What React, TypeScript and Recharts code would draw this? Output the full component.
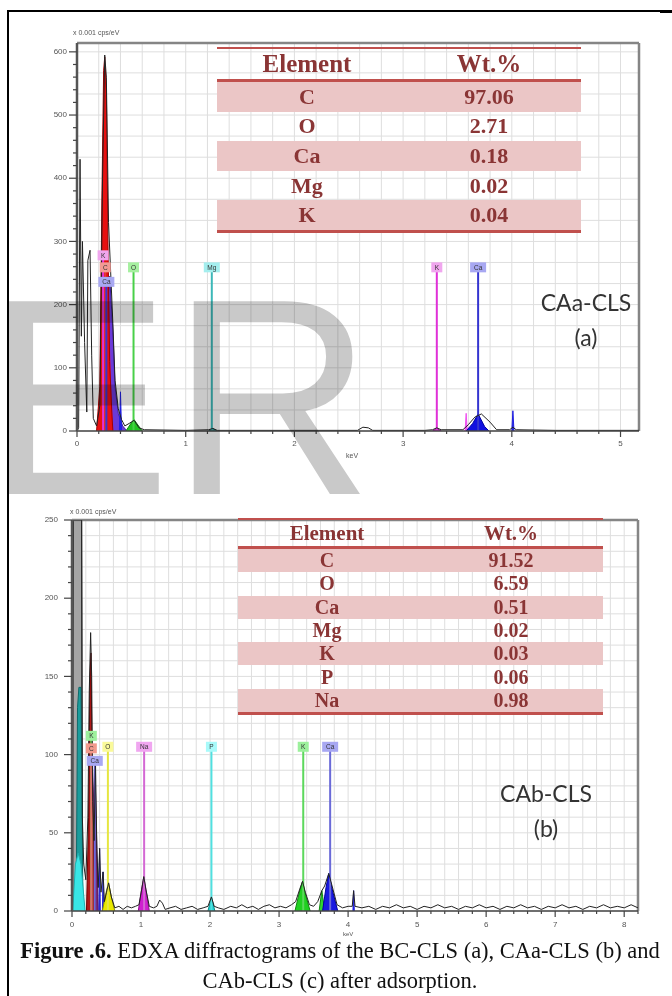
import React from "react";
import { ComposedChart, Area, Line, XAxis, YAxis, CartesianGrid, ReferenceLine, ReferenceDot } from "recharts";

type Pt = [number, number];

// ---------- (a) CAa-CLS ----------
const A_X_MAX = 5.17;
const A_Y_MAX = 614;
const A_X_TICKS = [0, 0.2, 0.4, 0.6, 0.8, 1, 1.2, 1.4, 1.6, 1.8, 2, 2.2, 2.4, 2.6, 2.8, 3, 3.2, 3.4, 3.6, 3.8, 4, 4.2, 4.4, 4.6, 4.8, 5];
const A_X_LABELS = [0, 1, 2, 3, 4, 5];
const A_Y_TICKS = [0, 20, 40, 60, 80, 100, 120, 140, 160, 180, 200, 220, 240, 260, 280, 300, 320, 340, 360, 380, 400, 420, 440, 460, 480, 500, 520, 540, 560, 580, 600];
const A_Y_LABELS = [0, 100, 200, 300, 400, 500, 600];
const A_Y_GRID = [0, 33.3, 66.7, 100, 133.3, 166.7, 200, 233.3, 266.7, 300, 333.3, 366.7, 400, 433.3, 466.7, 500, 533.3, 566.7, 600];

const A_SPECTRUM: Pt[] = [
  [0, 0], [0.015, 5], [0.028, 430], [0.04, 150], [0.05, 300], [0.07, 140], [0.09, 30], [0.1, 270], [0.12, 286],
  [0.135, 120], [0.15, 20], [0.18, 8], [0.21, 40], [0.235, 400], [0.255, 595], [0.27, 560], [0.29, 330], [0.31, 250],
  [0.33, 170], [0.35, 80], [0.38, 35], [0.41, 18], [0.44, 8], [0.48, 12], [0.525, 17], [0.57, 5], [0.62, 2],
  [1.0, 1], [1.21, 2], [1.25, 4], [1.29, 1], [2.0, 1], [2.58, 1], [2.63, 6], [2.68, 5], [2.72, 1], [3.2, 1],
  [3.27, 2], [3.31, 5], [3.35, 2], [3.55, 2], [3.6, 10], [3.66, 22], [3.72, 27], [3.8, 14], [3.86, 2], [3.98, 2],
  [4.01, 6], [4.04, 2], [4.4, 1], [5.17, 1],
];
const A_C_PEAK: Pt[] = [[0.18, 0], [0.21, 70], [0.23, 380], [0.245, 570], [0.255, 592], [0.27, 540], [0.285, 300], [0.3, 110], [0.32, 30], [0.33, 0]];
const A_K_LOW_PEAK: Pt[] = [[0.21, 0], [0.24, 160], [0.265, 225], [0.29, 190], [0.31, 70], [0.33, 0]];
const A_CA_LOW_PEAK: Pt[] = [[0.24, 0], [0.27, 170], [0.3, 245], [0.33, 160], [0.35, 70], [0.38, 28], [0.42, 8], [0.46, 0]];
const A_CA_TAIL: Pt[] = [[0.39, 0], [0.4, 62], [0.41, 0]];
const A_O_PEAK: Pt[] = [[0.45, 0], [0.5, 13], [0.525, 18], [0.55, 12], [0.6, 0]];
const A_MG_PEAK: Pt[] = [[1.21, 0], [1.25, 4], [1.29, 0]];
const A_K_PEAK: Pt[] = [[3.27, 0], [3.31, 4], [3.35, 0]];
const A_KB_PEAK: Pt[] = [[3.57, 0], [3.58, 28], [3.59, 0]];
const A_CA_PEAK: Pt[] = [[3.58, 0], [3.64, 12], [3.69, 27], [3.75, 7], [3.79, 0]];
const A_CAB_PEAK: Pt[] = [[4.0, 0], [4.01, 32], [4.02, 0]];

const A_MARKERS = [
  { el: "K", e: 0.24, h: 278 },
  { el: "C", e: 0.26, h: 259 },
  { el: "Ca", e: 0.27, h: 236 },
  { el: "O", e: 0.52, h: 259 },
  { el: "Mg", e: 1.24, h: 259 },
  { el: "K", e: 3.31, h: 259 },
  { el: "Ca", e: 3.69, h: 259 },
];

const A_ELEMENTS = ["C", "O", "Ca", "Mg", "K"];
const A_WT = ["97.06", "2.71", "0.18", "0.02", "0.04"];

// ---------- (b) CAb-CLS ----------
const B_X_MAX = 8.2;
const B_Y_MAX = 250;
const B_X_TICKS = [0, 0.2, 0.4, 0.6, 0.8, 1, 1.2, 1.4, 1.6, 1.8, 2, 2.2, 2.4, 2.6, 2.8, 3, 3.2, 3.4, 3.6, 3.8, 4, 4.2, 4.4, 4.6, 4.8, 5, 5.2, 5.4, 5.6, 5.8, 6, 6.2, 6.4, 6.6, 6.8, 7, 7.2, 7.4, 7.6, 7.8, 8, 8.2];
const B_X_LABELS = [0, 1, 2, 3, 4, 5, 6, 7, 8];
const B_Y_TICKS = [0, 10, 20, 30, 40, 50, 60, 70, 80, 90, 100, 110, 120, 130, 140, 150, 160, 170, 180, 190, 200, 210, 220, 230, 240, 250];
const B_Y_LABELS = [0, 50, 100, 150, 200, 250];

const B_SPECTRUM: Pt[] = [
  [0, 0], [0.01, 250], [0.14, 250], [0.15, 60], [0.17, 30], [0.2, 20], [0.23, 60], [0.25, 140], [0.27, 178],
  [0.285, 150], [0.3, 70], [0.32, 45], [0.34, 96], [0.36, 40], [0.38, 15], [0.4, 40], [0.42, 12], [0.45, 25],
  [0.47, 6], [0.5, 12], [0.53, 18], [0.57, 9], [0.62, 2], [0.68, 3], [0.74, 1], [0.8, 3], [0.86, 2], [0.92, 3],
  [0.97, 4], [1.01, 14], [1.04, 22], [1.07, 14], [1.12, 3], [1.18, 2], [1.23, 3], [1.27, 7], [1.31, 5], [1.35, 1],
  [1.42, 2], [1.5, 3], [1.58, 1], [1.66, 2], [1.74, 3], [1.82, 1], [1.9, 2], [1.97, 3], [2.02, 9], [2.06, 3],
  [2.12, 2], [2.2, 1], [2.3, 3], [2.38, 2], [2.46, 4], [2.54, 2], [2.62, 3], [2.7, 1], [2.78, 3], [2.86, 4],
  [2.94, 2], [3.02, 3], [3.1, 2], [3.18, 4], [3.24, 6], [3.3, 14], [3.34, 19], [3.38, 12], [3.44, 4], [3.5, 3],
  [3.56, 6], [3.62, 13], [3.66, 16], [3.72, 24], [3.78, 14], [3.84, 4], [3.92, 2], [4.0, 3], [4.06, 3], [4.08, 13],
  [4.1, 3], [4.2, 2], [4.3, 3], [4.4, 1], [4.5, 3], [4.6, 2], [4.7, 4], [4.8, 2], [4.9, 3], [5.0, 1], [5.1, 3],
  [5.2, 2], [5.3, 4], [5.4, 2], [5.5, 3], [5.6, 1], [5.7, 3], [5.8, 2], [5.9, 4], [6.0, 2], [6.1, 3], [6.2, 1],
  [6.3, 3], [6.4, 2], [6.5, 4], [6.6, 2], [6.7, 3], [6.8, 1], [6.9, 3], [7.0, 2], [7.1, 4], [7.2, 2], [7.3, 3],
  [7.4, 1], [7.5, 3], [7.6, 2], [7.7, 4], [7.8, 2], [7.9, 3], [8.0, 2], [8.1, 4], [8.2, 2],
];
const B_ZERO_PEAK: Pt[] = [[0.01, 0], [0.02, 250], [0.14, 250], [0.15, 0]];
const B_TEAL_PEAK: Pt[] = [[0.06, 0], [0.08, 130], [0.1, 143], [0.13, 143], [0.16, 0]];
const B_CYAN_PEAK: Pt[] = [[0.01, 0], [0.05, 30], [0.09, 37], [0.13, 30], [0.19, 0]];
const B_C_PEAK: Pt[] = [[0.21, 0], [0.24, 60], [0.26, 150], [0.275, 165], [0.29, 100], [0.32, 30], [0.34, 0]];
const B_CA_LOW_PEAK: Pt[] = [[0.28, 0], [0.3, 60], [0.33, 96], [0.36, 40], [0.38, 0]];
const B_CA_TAIL1: Pt[] = [[0.39, 0], [0.4, 40], [0.41, 0]];
const B_CA_TAIL2: Pt[] = [[0.44, 0], [0.45, 25], [0.46, 0]];
const B_O_PEAK: Pt[] = [[0.44, 0], [0.5, 13], [0.53, 18], [0.57, 9], [0.62, 0]];
const B_NA_PEAK: Pt[] = [[0.96, 0], [1.01, 14], [1.04, 22], [1.07, 14], [1.12, 0]];
const B_P_PEAK: Pt[] = [[1.97, 0], [2.02, 9], [2.07, 0]];
const B_K_PEAK: Pt[] = [[3.23, 0], [3.3, 13], [3.34, 19], [3.38, 11], [3.45, 0]];
const B_KB_PEAK: Pt[] = [[3.58, 0], [3.62, 13], [3.66, 0]];
const B_CA_PEAK: Pt[] = [[3.63, 0], [3.68, 15], [3.72, 24], [3.78, 12], [3.85, 0]];
const B_CAB_PEAK: Pt[] = [[4.07, 0], [4.08, 13], [4.09, 0]];

const B_MARKERS = [
  { el: "K", e: 0.28, h: 112 },
  { el: "C", e: 0.28, h: 104 },
  { el: "Ca", e: 0.33, h: 96 },
  { el: "O", e: 0.52, h: 105 },
  { el: "Na", e: 1.045, h: 105 },
  { el: "P", e: 2.02, h: 105 },
  { el: "K", e: 3.35, h: 105 },
  { el: "Ca", e: 3.74, h: 105 },
];

const B_ELEMENTS = ["C", "O", "Ca", "Mg", "K", "P", "Na"];
const B_WT = ["91.52", "6.59", "0.51", "0.02", "0.03", "0.06", "0.98"];

// marker colours (line, label box)
const A_MARK_COLORS: Record<string, [string, string]> = {
  K: ["#e030d8", "#f0a6ee"],
  C: ["#e03a3a", "#f29a94"],
  Ca: ["#3434d0", "#a8a8f2"],
  O: ["#48d048", "#a6f0a0"],
  Mg: ["#3cb8b8", "#a4eeee"],
};
const B_MARK_COLORS: Record<string, [string, string]> = {
  K: ["#5cd85c", "#9cf09c"],
  C: ["#e06a6a", "#f29a8c"],
  Ca: ["#6a6ad8", "#a8a8f2"],
  O: ["#e6e640", "#fafa9a"],
  Na: ["#d468d4", "#f0a6f0"],
  P: ["#50e0e0", "#a8fafa"],
};

const toRows = (pts: Pt[]) => pts.map(([e, c]) => ({ e, c }));

interface PeakDef { pts: Pt[]; fill: string; stroke: string }

// drawn back to front
const A_PEAKS: PeakDef[] = [
  { pts: A_CA_LOW_PEAK, fill: "#6a3ad8", stroke: "#3a1aa0" },
  { pts: A_K_LOW_PEAK, fill: "#ff3cc8", stroke: "#c0208c" },
  { pts: A_C_PEAK, fill: "#e81010", stroke: "#a00000" },
  { pts: A_CA_TAIL, fill: "#2020e0", stroke: "#2020e0" },
  { pts: A_O_PEAK, fill: "#22c422", stroke: "#108010" },
  { pts: A_MG_PEAK, fill: "#30b0b0", stroke: "#208080" },
  { pts: A_K_PEAK, fill: "#e020e0", stroke: "#a010a0" },
  { pts: A_KB_PEAK, fill: "#f050f0", stroke: "#f050f0" },
  { pts: A_CA_PEAK, fill: "#1010e0", stroke: "#0000a0" },
  { pts: A_CAB_PEAK, fill: "#2020e0", stroke: "#2020e0" },
];

const B_PEAKS: PeakDef[] = [
  { pts: B_ZERO_PEAK, fill: "#a4a4a4", stroke: "#222" },
  { pts: B_TEAL_PEAK, fill: "#1a9c9c", stroke: "#0e6a6a" },
  { pts: B_CYAN_PEAK, fill: "#38e6e6", stroke: "#20b0b0" },
  { pts: B_CA_LOW_PEAK, fill: "#7a2a78", stroke: "#501050" },
  { pts: B_C_PEAK, fill: "#b01818", stroke: "#700000" },
  { pts: B_CA_TAIL1, fill: "#2828d0", stroke: "#2828d0" },
  { pts: B_CA_TAIL2, fill: "#2828d0", stroke: "#2828d0" },
  { pts: B_O_PEAK, fill: "#e8e800", stroke: "#909000" },
  { pts: B_NA_PEAK, fill: "#d020d0", stroke: "#901090" },
  { pts: B_P_PEAK, fill: "#20d0d0", stroke: "#108888" },
  { pts: B_K_PEAK, fill: "#20d020", stroke: "#108810" },
  { pts: B_KB_PEAK, fill: "#30d830", stroke: "#108810" },
  { pts: B_CA_PEAK, fill: "#1a1ae0", stroke: "#0000a0" },
  { pts: B_CAB_PEAK, fill: "#2020e0", stroke: "#2020e0" },
];

const TICK_FONT = "'Liberation Sans', Arial, sans-serif";

function XTick(props: any) {
  const { x, y, payload, labels, labelGap } = props;
  const major = labels.includes(payload.value);
  return (
    <g>
      <line x1={x} x2={x} y1={y} y2={y + (major ? 6 : 3)} stroke="#444" strokeWidth={1.2} />
      {major && (
        <text x={x} y={y + labelGap} textAnchor="middle" dominantBaseline="middle" fontSize={8} fill="#555" fontFamily={TICK_FONT}>
          {payload.value}
        </text>
      )}
    </g>
  );
}

function YTick(props: any) {
  const { x, y, payload, labels, labelGap } = props;
  const major = labels.includes(payload.value);
  return (
    <g>
      <line x1={x - (major ? 8 : 4)} x2={x} y1={y} y2={y} stroke="#444" strokeWidth={1.2} />
      {major && (
        <text x={x - labelGap} y={y} textAnchor="end" dominantBaseline="middle" fontSize={8} fill="#555" fontFamily={TICK_FONT}>
          {payload.value}
        </text>
      )}
    </g>
  );
}

function MarkerBox(props: any) {
  const { cx, cy, el, fill } = props;
  const w = el.length > 1 ? 16 : 11;
  return (
    <g>
      <rect x={cx - w / 2} y={cy - 5} width={w} height={10} fill={fill} />
      <text x={cx} y={cy + 0.5} textAnchor="middle" dominantBaseline="middle" fontSize={6.5} fill="#333" fontFamily={TICK_FONT}>
        {el}
      </text>
    </g>
  );
}

interface SpectrumProps {
  width: number;
  height: number;
  margin: { top: number; right: number; bottom: number; left: number };
  xMax: number;
  yMax: number;
  xTicks: number[];
  xLabels: number[];
  yTicks: number[];
  yLabels: number[];
  yGrid: number[];
  yLabelGap: number;
  xLabelGap: number;
  spectrum: Pt[];
  peaks: PeakDef[];
  markers: { el: string; e: number; h: number }[];
  colors: Record<string, [string, string]>;
}

function Spectrum(p: SpectrumProps) {
  // axes take 1px so that recharts still draws them
  const margin = { ...p.margin, left: p.margin.left - 1, bottom: p.margin.bottom - 1 };
  return (
    <ComposedChart width={p.width} height={p.height} margin={margin}>
      <CartesianGrid yAxisId="grid" stroke="#dedede" strokeWidth={1} />
      <XAxis
        dataKey="e"
        type="number"
        domain={[0, p.xMax]}
        allowDataOverflow
        ticks={p.xTicks}
        interval={0}
        height={1}
        tickSize={0}
        tickMargin={0}
        tickLine={false}
        axisLine={{ stroke: "#444", strokeWidth: 1.5 }}
        tick={<XTick labels={p.xLabels} labelGap={p.xLabelGap} />}
      />
      <YAxis
        type="number"
        domain={[0, p.yMax]}
        allowDataOverflow
        ticks={p.yTicks}
        interval={0}
        width={1}
        tickSize={0}
        tickMargin={0}
        tickLine={false}
        axisLine={{ stroke: "#555", strokeWidth: 2.5 }}
        tick={<YTick labels={p.yLabels} labelGap={p.yLabelGap} />}
      />
      <YAxis yAxisId="grid" hide type="number" domain={[0, p.yMax]} allowDataOverflow ticks={p.yGrid} interval={0} />
      <ReferenceLine y={p.yMax} stroke="#858585" strokeWidth={2.5} />
      <ReferenceLine x={p.xMax} stroke="#858585" strokeWidth={2.5} />
      {p.markers.map((m, i) => (
        <ReferenceLine
          key={`ml${i}`}
          segment={[{ x: m.e, y: 0 }, { x: m.e, y: m.h }]}
          stroke={p.colors[m.el][0]}
          strokeWidth={2}
        />
      ))}
      {p.peaks.map((pk, i) => (
        <Area
          key={`pk${i}`}
          data={toRows(pk.pts)}
          dataKey="c"
          type="linear"
          fill={pk.fill}
          fillOpacity={1}
          stroke={pk.stroke}
          strokeWidth={1}
          dot={false}
          activeDot={false}
          isAnimationActive={false}
        />
      ))}
      <Line
        data={toRows(p.spectrum)}
        dataKey="c"
        type="linear"
        stroke="#222"
        strokeWidth={1}
        dot={false}
        activeDot={false}
        isAnimationActive={false}
      />
      {p.markers.map((m, i) => (
        <ReferenceDot
          key={`mb${i}`}
          x={m.e}
          y={m.h}
          r={0}
          shape={(sp: any) => <MarkerBox cx={sp.cx} cy={sp.cy} el={m.el} fill={p.colors[m.el][1]} />}
        />
      ))}
    </ComposedChart>
  );
}

const TABLE_RED = "#c0504d";
const TABLE_TEXT = "#8a3535";
const TABLE_SHADE = "#ebc6c6";

function WtTable(props: {
  left: number; top: number; width: number; headH: number; rowH: number;
  headFont: number; rowFont: number; elemX: number; valX: number;
  elements: string[]; values: string[];
}) {
  const { left, top, width, headH, rowH, headFont, rowFont, elemX, valX, elements, values } = props;
  const cell = (x: number, size: number): React.CSSProperties => ({
    position: "absolute", left: x - 80, width: 160, top: 0, height: "100%",
    display: "flex", alignItems: "center", justifyContent: "center",
    fontSize: size, fontWeight: 700, color: TABLE_TEXT,
  });
  return (
    <div style={{ position: "absolute", left, top, width, fontFamily: "'Liberation Serif', 'Times New Roman', serif" }}>
      <div style={{ height: 2, background: TABLE_RED }} />
      <div style={{ position: "relative", height: headH }}>
        <span style={cell(elemX, headFont)}>Element</span>
        <span style={cell(valX, headFont)}>Wt.%</span>
      </div>
      <div style={{ height: 3, background: TABLE_RED }} />
      {elements.map((el, i) => (
        <div key={el} style={{ position: "relative", height: rowH, background: i % 2 === 0 ? TABLE_SHADE : "transparent" }}>
          <span style={cell(elemX, rowFont)}>{el}</span>
          <span style={cell(valX, rowFont)}>{values[i]}</span>
        </div>
      ))}
      <div style={{ height: 3, background: TABLE_RED }} />
    </div>
  );
}

const small: React.CSSProperties = {
  position: "absolute", fontFamily: TICK_FONT, fontSize: 7, color: "#555", whiteSpace: "nowrap",
};
const sampleLabel: React.CSSProperties = {
  position: "absolute", fontFamily: "Lato, 'Open Sans', sans-serif", fontSize: 23, color: "#333",
  textAlign: "center", width: 140, lineHeight: "35px",
};

export default function App() {
  return (
    <div style={{ position: "absolute", left: 0, top: 0, width: 672, height: 996, background: "#fff", overflow: "hidden" }}>
      {/* frame */}
      <div style={{ position: "absolute", left: 8, top: 10, width: 664, height: 2, background: "#000" }} />
      <div style={{ position: "absolute", left: 660, top: 10, width: 12, height: 3, background: "#000" }} />
      <div style={{ position: "absolute", left: 7, top: 10, width: 2, height: 986, background: "#000" }} />

      <div style={{ position: "absolute", left: 0, top: 0 }}>
        <Spectrum
          width={672}
          height={470}
          margin={{ top: 43, right: 33, bottom: 39, left: 77 }}
          xMax={A_X_MAX}
          yMax={A_Y_MAX}
          xTicks={A_X_TICKS}
          xLabels={A_X_LABELS}
          yTicks={A_Y_TICKS}
          yLabels={A_Y_LABELS}
          yGrid={A_Y_GRID}
          yLabelGap={10}
          xLabelGap={13}
          spectrum={A_SPECTRUM}
          peaks={A_PEAKS}
          markers={A_MARKERS}
          colors={A_MARK_COLORS}
        />
      </div>
      <div style={{ ...small, left: 73, top: 29 }}>x 0.001 cps/eV</div>
      <div style={{ ...small, left: 346, top: 452 }}>keV</div>
      <WtTable left={217} top={47} width={364} headH={30} rowH={29.6} headFont={25} rowFont={22}
        elemX={90} valX={272} elements={A_ELEMENTS} values={A_WT} />
      <div style={{ ...sampleLabel, left: 516, top: 285 }}>CAa-CLS<br />(a)</div>

      <div style={{ position: "absolute", left: 0, top: 480 }}>
        <Spectrum
          width={672}
          height={480}
          margin={{ top: 40, right: 34, bottom: 49, left: 72 }}
          xMax={B_X_MAX}
          yMax={B_Y_MAX}
          xTicks={B_X_TICKS}
          xLabels={B_X_LABELS}
          yTicks={B_Y_TICKS}
          yLabels={B_Y_LABELS}
          yGrid={B_Y_TICKS}
          yLabelGap={14}
          xLabelGap={14}
          spectrum={B_SPECTRUM}
          peaks={B_PEAKS}
          markers={B_MARKERS}
          colors={B_MARK_COLORS}
        />
      </div>
      <div style={{ ...small, left: 70, top: 508 }}>x 0.001 cps/eV</div>
      <div style={{ ...small, left: 343, top: 931, fontSize: 6 }}>keV</div>
      <WtTable left={238} top={518} width={365} headH={26} rowH={23.3} headFont={21} rowFont={20}
        elemX={89} valX={273} elements={B_ELEMENTS} values={B_WT} />
      <div style={{ ...sampleLabel, left: 476, top: 776 }}>CAb-CLS<br />(b)</div>

      {/* caption */}
      <div style={{
        position: "absolute", left: 8, top: 936, width: 664, textAlign: "center",
        fontFamily: "'Liberation Serif', 'Times New Roman', serif", fontSize: 22.5, lineHeight: "30px", color: "#111",
        whiteSpace: "nowrap",
      }}>
        <b>Figure .6.</b> EDXA diffractograms of the BC-CLS (a), CAa-CLS (b) and<br />CAb-CLS (c) after adsorption.
      </div>

      {/* watermark */}
      <div style={{
        position: "absolute", left: -16, top: 247, fontFamily: "'Liberation Sans', Arial, sans-serif",
        fontSize: 280, lineHeight: "300px", color: "#c9c9c9", mixBlendMode: "multiply", pointerEvents: "none",
        whiteSpace: "nowrap",
      }}>
        ER
      </div>
    </div>
  );
}
